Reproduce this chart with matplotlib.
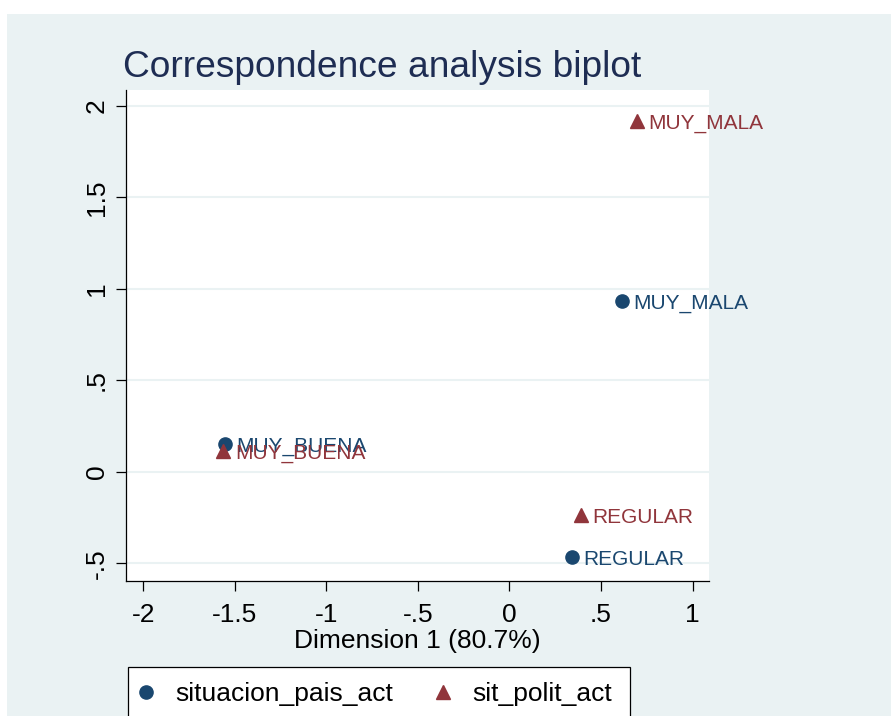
import matplotlib
matplotlib.use("Agg")
import matplotlib.pyplot as plt
from matplotlib.patches import Rectangle
from matplotlib.lines import Line2D

plt.rcParams['font.family'] = ['Liberation Sans', 'DejaVu Sans']

# CA coordinates
row_labels = ["MUY_BUENA", "MUY_MALA", "REGULAR"]
row_x = [-1.555, 0.613, 0.340]
row_y = [0.153, 0.934, -0.466]

col_labels = ["MUY_BUENA", "MUY_MALA", "REGULAR"]
col_x = [-1.564, 0.695, 0.391]
col_y = [0.112, 1.915, -0.238]

row_name = "situacion_pais_act"
col_name = "sit_polit_act"

xticks = [-2, -1.5, -1, -0.5, 0, 0.5, 1]
xticklabels = ["-2", "-1.5", "-1", "-.5", "0", ".5", "1"]
yticks = [-0.5, 0, 0.5, 1, 1.5, 2]
yticklabels = ["-.5", "0", ".5", "1", "1.5", "2"]

BLUE = "#1a476f"
RED = "#90353b"
BG = "#eaf2f3"

W, H = 891, 716
fig = plt.figure(figsize=(W / 100, H / 100), dpi=100, facecolor="white")
# Stata-style graph region
fig.patches.append(Rectangle((7 / W, 0), 1, 1 - 14 / H, transform=fig.transFigure,
                             facecolor=BG, edgecolor="none", zorder=-10))

ax = fig.add_axes([126 / W, 1 - 581 / H, (709 - 126) / W, (581 - 90) / H])
ax.set_facecolor("white")

ax.plot(row_x, row_y, "o", color=BLUE, markersize=9.5, linestyle="none", zorder=3)
ax.plot(col_x, col_y, "^", color=RED, markersize=10, linestyle="none", zorder=3)

for lab, x, y in zip(row_labels, row_x, row_y):
    ax.annotate(lab, (x, y), xytext=(8.4, 0), textcoords="offset points",
                color=BLUE, fontsize=15, va="center_baseline", ha="left", zorder=4)
for lab, x, y in zip(col_labels, col_x, col_y):
    ax.annotate(lab, (x, y), xytext=(8.4, 0), textcoords="offset points",
                color=RED, fontsize=15, va="center_baseline", ha="left", zorder=4)

ax.set_xlim(-2.095, 1.09)
ax.set_ylim(-0.596, 2.087)

ax.set_xticks(xticks)
ax.set_xticklabels(xticklabels)
ax.set_yticks(yticks)
ax.set_yticklabels(yticklabels, rotation=90, va="center")

ax.yaxis.grid(True, color=BG, linewidth=1.5)
ax.set_axisbelow(True)

for side in ["top", "right"]:
    ax.spines[side].set_visible(False)
for side in ["left", "bottom"]:
    ax.spines[side].set_linewidth(0.9)

ax.tick_params(axis="both", direction="out", length=7.5, width=0.9, labelsize=19)
ax.tick_params(axis="x", pad=8)
ax.tick_params(axis="y", pad=5)

ax.set_xlabel("Dimension 1 (80.7%)", fontsize=19, labelpad=2)

fig.text(123 / W, 1 - 77 / H, "Correspondence analysis biplot", fontsize=26.7,
         color="#1e2d53", ha="left", va="baseline")

# legend box runs past the bottom edge, as in the original export
fig.patches.append(Rectangle((128 / W, -0.05), (630 - 128) / W, 1 - 667 / H + 0.05,
                             transform=fig.transFigure, facecolor="white",
                             edgecolor="black", linewidth=0.9, zorder=-5))

handles = [
    Line2D([], [], marker="o", color=BLUE, linestyle="none", markersize=9.5),
    Line2D([], [], marker="^", color=RED, linestyle="none", markersize=10),
]
leg = fig.legend(handles, [row_name, col_name], loc="upper left",
                 bbox_to_anchor=(128 / W, 1 - 671 / H), ncol=2, fontsize=19,
                 frameon=False, borderpad=0.42, handlelength=0.5,
                 handletextpad=0.86, columnspacing=1.64, borderaxespad=0)

fig.savefig("out.png", dpi=100, facecolor="white")
